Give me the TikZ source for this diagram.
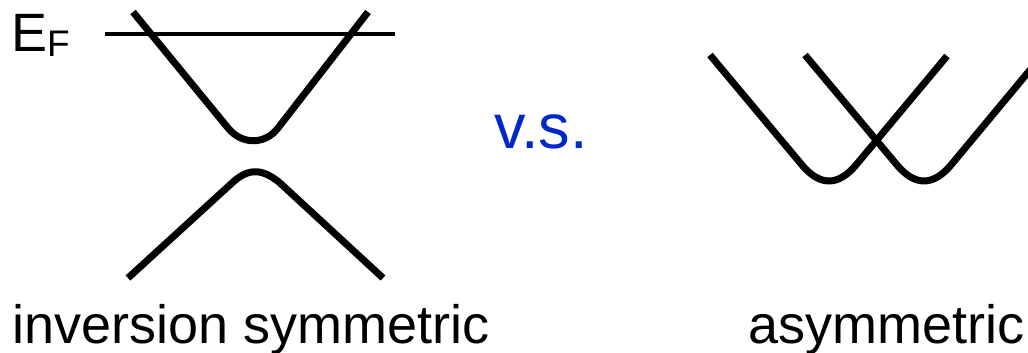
\documentclass[tikz,border=0pt]{standalone}
\usepackage{fontspec}
\setmainfont{Liberation Sans}
\definecolor{vsblue}{RGB}{0,40,200}
\begin{document}
\begin{tikzpicture}[x=1pt,y=-1pt,
  band/.style={line width=7pt,line join=round},
  fermi/.style={line width=4pt},
  lbl/.style={anchor=base west,inner sep=0pt,font=\fontsize{54}{54}\selectfont}]
\useasboundingbox (0,0) rectangle (1028,353);
% inversion symmetric bands
\draw[fermi] (105,34) coordinate (f1) -- (395,34) coordinate (f2);
\draw[band] (133,12) -- (228,128) .. controls (242,145) and (265,145) .. (278,128) -- (368,12);
\draw[band] (128,278) -- (232,183) .. controls (248,168) and (262,168) .. (280,183) -- (383,278);
\node[lbl] (ef) at (11,52) {E\raisebox{-5pt}{\fontsize{37}{37}\selectfont F}};
% v.s.
\node[lbl,font=\fontsize{63}{63}\selectfont,text=vsblue] (vs) at (494,148) {v.s.};
% asymmetric bands
\begin{scope}
\clip (0,0) rectangle (1028,353);
\draw[band] (710,55) -- (802,165) .. controls (820,186.3) and (838,186.3) .. (856,165) -- (947,56);
\draw[band] (805,55) -- (897,165) .. controls (915,186.3) and (933,186.3) .. (951,165) -- (1040,58);
\end{scope}
% labels
\node[lbl] (inv) at (12,343) {inversion symmetric};
\node[lbl] (asym) at (748,343) {asymmetric};
\end{tikzpicture}
\end{document}
